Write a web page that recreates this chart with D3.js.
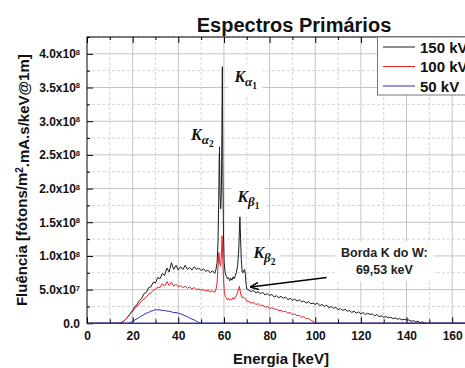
<!DOCTYPE html>
<html>
<head>
<meta charset="utf-8">
<script src="https://cdn.jsdelivr.net/npm/d3@7"></script>
<style>
  body { margin: 0; background: #fff; }
  svg { display: block; font-family: "Liberation Sans", Arial, sans-serif; }
</style>
</head>
<body>
<div id="chart"></div>
<script>
// values in units of 1e7 fótons/m².mA.s/keV@1m
const UNIT = 1e7;

const energy150 = [0, 14, 15, 16, 17, 18, 19, 20, 21, 22, 23, 24, 25, 26, 27, 28, 29, 30, 31, 32, 33, 34, 35, 36, 37, 38, 39, 40,
  41, 42, 43, 44, 45, 46, 47, 48, 49, 50, 51, 52, 53, 54, 55, 56, 56.5, 57, 57.4, 57.7, 58.0, 58.3, 58.6, 58.9, 59.1, 59.3, 59.5,
  59.8, 60.1, 60.5, 61, 61.5, 62, 62.5, 63, 63.5, 64, 64.5, 65, 65.5, 66, 66.5, 66.8, 67.0, 67.3, 67.6, 68.0, 68.4, 68.8, 69.1,
  69.4, 69.7, 70, 71, 72, 73, 74, 75, 76, 77, 78, 79, 80, 81, 82, 83, 84, 85, 86, 87, 88, 89, 90, 91, 92, 93, 94, 95, 96, 97,
  98, 99, 100, 101, 102, 103, 104, 105, 106, 107, 108, 109, 110, 111, 112, 113, 114, 115, 116, 117, 118, 119, 120, 121, 122,
  123, 124, 125, 126, 127, 128, 129, 130, 131, 132, 133, 134, 135, 136, 137, 138, 139, 140, 141, 142, 143, 144, 145, 146, 147,
  148, 149, 170];
const flux150 = [0, 0, 0.1, 0.3, 0.6, 1.0, 1.5, 1.9, 2.5, 2.8, 3.4, 3.7, 4.4, 4.6, 5.3, 5.4, 6.1, 6.0, 6.8, 6.6, 7.4, 7.1, 8.2, 7.6, 9.0, 8.0, 8.6, 7.9,
  8.4, 8.0, 8.6, 8.0, 8.3, 7.9, 8.4, 8.0, 8.2, 7.8, 8.1, 7.7, 7.9, 7.5, 7.8, 7.4, 8.0, 9.0, 12, 18, 26.2, 19, 17, 20, 28, 38.1, 24,
  13, 9.0, 7.6, 7.0, 6.6, 6.8, 6.3, 6.7, 6.4, 6.9, 6.6, 7.1, 7.6, 8.6, 11, 14, 15.8, 12.5, 9.5, 7.6, 7.5, 7.9, 8.0,
  7.2, 5.8, 5.1, 4.9, 4.7, 4.9, 4.5, 4.7, 4.4, 4.6, 4.2, 4.4, 4.1, 4.3, 3.9, 4.1, 3.8, 4.0, 3.7, 3.9, 3.5, 3.7, 3.4, 3.6, 3.3, 3.5, 3.2, 3.3, 3.0, 3.2,
  2.9, 3.0, 2.8, 3.0, 2.6, 2.8, 2.5, 2.7, 2.3, 2.5, 2.2, 2.4, 2.0, 2.2, 1.9, 2.1, 1.8, 1.9, 1.6, 1.8, 1.5, 1.7, 1.4, 1.6, 1.3,
  1.5, 1.3, 1.4, 1.1, 1.3, 1.0, 1.1, 0.9, 1.0, 0.8, 0.9, 0.7, 0.8, 0.6, 0.7, 0.5, 0.6, 0.5, 0.5, 0.3, 0.4, 0.2, 0.3, 0.1, 0.2,
  0.05, 0, 0];

const energy100 = [0, 14, 15, 16, 17, 18, 19, 20, 21, 22, 23, 24, 25, 26, 27, 28, 29, 30, 31, 32, 33, 34, 35, 36, 37, 38, 39, 40,
  41, 42, 43, 44, 45, 46, 47, 48, 49, 50, 51, 52, 53, 54, 55, 56, 56.5, 57, 57.4, 57.8, 58.1, 58.5, 58.9, 59.2, 59.5, 59.8,
  60.2, 60.6, 61, 61.5, 62, 62.5, 63, 63.5, 64, 64.5, 65, 65.5, 66, 66.5, 66.8, 67.1, 67.5, 68, 68.5, 69, 69.5, 70, 71, 72, 73,
  74, 75, 76, 77, 78, 79, 80, 81, 82, 83, 84, 85, 86, 87, 88, 89, 90, 91, 92, 93, 94, 95, 96, 97, 98, 99, 100, 170];
const flux100 = [0, 0, 0.1, 0.3, 0.6, 1.0, 1.4, 1.8, 2.2, 2.6, 2.9, 3.3, 3.6, 3.9, 4.3, 4.5, 4.9, 5.0, 5.4, 5.3, 5.9, 5.5, 6.2, 5.6, 6.1, 5.5, 5.8, 5.4,
  5.6, 5.3, 5.5, 5.2, 5.4, 5.1, 5.3, 5.0, 5.1, 4.9, 5.0, 4.8, 4.9, 4.7, 4.8, 4.6, 5.0, 6.0, 8.5, 10.5, 9.0, 8.5, 10, 13.0, 9.5, 6.5,
  4.6, 4.0, 3.8, 3.5, 3.7, 3.4, 3.6, 3.5, 3.8, 3.6, 3.9, 4.1, 4.6, 5.2, 5.5, 4.8, 4.2, 3.8, 3.9, 3.8, 3.6, 3.3, 3.2, 3.0, 3.1,
  2.8, 2.9, 2.6, 2.7, 2.4, 2.5, 2.2, 2.3, 2.1, 2.1, 1.9, 1.9, 1.7, 1.8, 1.5, 1.6, 1.3, 1.4, 1.1, 1.2, 0.9, 1.0, 0.7, 0.7, 0.5, 0.3, 0, 0];

const energy50 = [0, 18, 19, 20, 21, 22, 23, 24, 25, 26, 27, 28, 29, 30, 31, 32, 33, 34, 35, 36, 37, 38, 39, 40, 41, 42, 43, 44,
  45, 46, 47, 48, 49, 50, 170];
const flux50 = [0, 0, 0.1, 0.3, 0.5, 0.7, 0.9, 1.1, 1.3, 1.5, 1.6, 1.8, 1.9, 2.0, 2.0, 2.0, 1.9, 1.9, 1.8, 1.8, 1.7, 1.6, 1.6, 1.5, 1.4, 1.3, 1.1, 1.0,
  0.8, 0.6, 0.5, 0.3, 0.1, 0, 0];

const seriesNames = ["150 kV", "100 kV", "50 kV"];
const seriesColors = ["#1c1c1c", "#e3242b", "#2b2bc8"];

const xMajorTicks = [0, 20, 40, 60, 80, 100, 120, 140, 160];
const xMinorTicks = [10, 30, 50, 70, 90, 110, 130, 150, 170];
const yMajorTicks = [0, 5e7, 1e8, 1.5e8, 2e8, 2.5e8, 3e8, 3.5e8, 4e8];
const yMinorTicks = [2.5e7, 7.5e7, 1.25e8, 1.75e8, 2.25e8, 2.75e8, 3.25e8, 3.75e8, 4.25e8];
const yTickMantissa = ["0.0", "5.0x10", "1.0x10", "1.5x10", "2.0x10", "2.5x10", "3.0x10", "3.5x10", "4.0x10"];
const yTickExponent = ["", "7", "8", "8", "8", "8", "8", "8", "8"];

// peak labels: [greek, index, energy keV, flux]
const peakLabels = [
  ["α", "1", 64.6, 3.58e8],
  ["α", "2", 45.6, 2.72e8],
  ["β", "1", 65.9, 1.80e8],
  ["β", "2", 72.9, 0.97e8]
];
const edgeText = ["Borda K do W:", "69,53 keV"];
const edgeTextPos = [130.3, 0.99e8, 0.73e8];
const edgeArrow = [[105, 6.8e7], [71.7, 5.4e7]];

const width = 465, height = 368;
const plotLeft = 87, plotTop = 37, plotBottom = 323.3, plotRight = 475;

const x = d3.scaleLinear().domain([0, 170]).range([plotLeft, plotRight]);
const y = d3.scaleLinear().domain([0, 4.25e8]).range([plotBottom, plotTop]);

const svg = d3.select("#chart").append("svg")
  .attr("width", width)
  .attr("height", height);

// grid
const grid = svg.append("g");
grid.selectAll(".gxm").data(xMinorTicks).join("line")
  .attr("x1", d => x(d)).attr("x2", d => x(d))
  .attr("y1", plotTop).attr("y2", plotBottom)
  .attr("stroke", "#d4d4d4").attr("stroke-dasharray", "3,2");
grid.selectAll(".gym").data(yMinorTicks).join("line")
  .attr("x1", plotLeft).attr("x2", plotRight)
  .attr("y1", d => y(d)).attr("y2", d => y(d))
  .attr("stroke", "#d4d4d4").attr("stroke-dasharray", "3,2");
grid.selectAll(".gx").data(xMajorTicks.slice(1)).join("line")
  .attr("x1", d => x(d)).attr("x2", d => x(d))
  .attr("y1", plotTop).attr("y2", plotBottom)
  .attr("stroke", "#c4c4c4");
grid.selectAll(".gy").data(yMajorTicks.slice(1)).join("line")
  .attr("x1", plotLeft).attr("x2", plotRight)
  .attr("y1", d => y(d)).attr("y2", d => y(d))
  .attr("stroke", "#c4c4c4");

// spectra
const line = d3.line().x(d => x(d[0])).y(d => y(d[1] * UNIT));
const spectra = [
  d3.zip(energy150, flux150),
  d3.zip(energy100, flux100),
  d3.zip(energy50, flux50)
];
svg.append("g").selectAll("path").data(spectra).join("path")
  .attr("d", line)
  .attr("fill", "none")
  .attr("stroke", (d, i) => seriesColors[i])
  .attr("stroke-width", 1);

// axes (ticks inward)
function styleAxis(g) {
  g.select(".domain").remove();
  g.selectAll("line").attr("stroke", "#000");
}
svg.append("g").attr("transform", `translate(${plotLeft},0)`)
  .call(d3.axisLeft(y).tickValues(yMajorTicks).tickSize(-6).tickFormat(""))
  .call(styleAxis);
svg.append("g").attr("transform", `translate(${plotLeft},0)`)
  .call(d3.axisLeft(y).tickValues(yMinorTicks).tickSize(-3).tickFormat(""))
  .call(styleAxis);
svg.append("g").attr("transform", `translate(0,${plotTop})`)
  .call(d3.axisTop(x).tickValues(xMajorTicks).tickSize(-6).tickFormat(""))
  .call(styleAxis);
svg.append("g").attr("transform", `translate(0,${plotTop})`)
  .call(d3.axisTop(x).tickValues(xMinorTicks).tickSize(-3).tickFormat(""))
  .call(styleAxis);
svg.append("g").attr("transform", `translate(0,${plotBottom})`)
  .call(d3.axisBottom(x).tickValues(xMinorTicks).tickSize(-4).tickFormat(""))
  .call(styleAxis);
const xAxis = svg.append("g").attr("transform", `translate(0,${plotBottom})`)
  .call(d3.axisBottom(x).tickValues(xMajorTicks).tickSize(-6).tickPadding(8))
  .call(styleAxis);
xAxis.selectAll("text")
  .attr("fill", "#111")
  .style("font-size", "12px")
  .style("font-weight", "bold")
  .style("font-family", "'Liberation Sans', Arial, sans-serif");

// y tick labels with superscript
const yLabels = svg.append("g").selectAll("text").data(yMajorTicks).join("text")
  .attr("x", 80)
  .attr("y", d => y(d))
  .attr("dy", "0.36em")
  .attr("text-anchor", "end")
  .attr("fill", "#111")
  .style("font-size", "12px")
  .style("font-weight", "bold");
yLabels.append("tspan").text((d, i) => yTickMantissa[i]);
yLabels.append("tspan")
  .attr("dy", "-0.45em")
  .style("font-size", "7.5px")
  .text((d, i) => yTickExponent[i]);

// frame
svg.append("rect")
  .attr("x", plotLeft).attr("y", plotTop)
  .attr("width", plotRight - plotLeft).attr("height", plotBottom - plotTop)
  .attr("fill", "none").attr("stroke", "#000").attr("stroke-width", 1);
svg.append("line")
  .attr("x1", plotLeft).attr("x2", plotRight)
  .attr("y1", plotBottom).attr("y2", plotBottom)
  .attr("stroke", seriesColors[2]).attr("stroke-width", 1.2);

// title
svg.append("text")
  .attr("x", 294).attr("y", 32)
  .attr("text-anchor", "middle")
  .style("font-size", "20px").style("font-weight", "bold")
  .attr("fill", "#111")
  .text("Espectros Primários");

// axis titles
svg.append("text")
  .attr("x", (plotLeft + plotRight) / 2).attr("y", 364)
  .attr("text-anchor", "middle")
  .style("font-size", "15px").style("font-weight", "bold")
  .attr("fill", "#111")
  .text("Energia [keV]");

const yTitle = svg.append("text")
  .attr("transform", `translate(27,${(plotTop + plotBottom) / 2}) rotate(-90)`)
  .attr("text-anchor", "middle")
  .style("font-size", "15px").style("font-weight", "bold")
  .attr("fill", "#111");
yTitle.append("tspan").text("Fluência [fótons/m");
yTitle.append("tspan").attr("dy", "-0.45em").style("font-size", "10px").text("2");
yTitle.append("tspan").attr("dy", "0.45em").text(".mA.s/keV@1m]");

// legend (cut at the right edge, as in the source figure)
const legend = svg.append("g");
legend.append("rect")
  .attr("x", 377.5).attr("y", plotTop)
  .attr("width", 110).attr("height", 58)
  .attr("fill", "#fff").attr("stroke", "#777");
const legendItems = legend.selectAll("g.item").data(seriesNames).join("g")
  .attr("transform", (d, i) => `translate(383,${47 + i * 19.5})`);
legendItems.append("line")
  .attr("x1", 0).attr("x2", 32)
  .attr("stroke", (d, i) => seriesColors[i]).attr("stroke-width", 1);
legendItems.append("text")
  .attr("x", 37).attr("y", 5.5)
  .style("font-size", "15px").style("font-weight", "bold")
  .attr("fill", "#111")
  .text(d => d);

// peak labels with white boxes
peakLabels.forEach(p => {
  const g = svg.append("g");
  const t = g.append("text")
    .attr("x", x(p[2])).attr("y", y(p[3]))
    .style("font-family", "'Liberation Serif', 'Times New Roman', serif")
    .style("font-style", "italic").style("font-weight", "bold")
    .attr("fill", "#111");
  t.append("tspan").style("font-size", "16px").text("K");
  t.append("tspan").attr("dy", 4).style("font-size", "13px").text(p[0]);
  t.append("tspan").attr("dy", 3).style("font-size", "9.5px").style("font-style", "normal").text(p[1]);
  const b = t.node().getBBox();
  g.insert("rect", "text")
    .attr("x", b.x - 5).attr("y", b.y - 4)
    .attr("width", b.width + 10).attr("height", b.height + 8)
    .attr("fill", "#fff");
});

// K-edge annotation
const edge = svg.append("g");
edge.selectAll("text").data(edgeText).join("text")
  .attr("x", x(edgeTextPos[0]))
  .attr("y", (d, i) => y(edgeTextPos[i + 1]))
  .attr("text-anchor", "middle")
  .style("font-size", "12.5px").style("font-weight", "bold")
  .attr("fill", "#222")
  .text(d => d);
const eb = edge.node().getBBox();
edge.insert("rect", "text")
  .attr("x", eb.x - 6).attr("y", eb.y - 4)
  .attr("width", eb.width + 12).attr("height", eb.height + 8)
  .attr("fill", "#fff");

svg.append("defs").append("marker")
  .attr("id", "arrowhead")
  .attr("viewBox", "0 -5 10 10")
  .attr("refX", 9).attr("refY", 0)
  .attr("markerWidth", 9).attr("markerHeight", 9)
  .attr("markerUnits", "userSpaceOnUse")
  .attr("orient", "auto")
  .append("path")
  .attr("d", "M0,-4L10,0L0,4")
  .attr("fill", "none").attr("stroke", "#000").attr("stroke-width", 1.6);

svg.append("line")
  .attr("x1", x(edgeArrow[0][0])).attr("y1", y(edgeArrow[0][1]))
  .attr("x2", x(edgeArrow[1][0])).attr("y2", y(edgeArrow[1][1]))
  .attr("stroke", "#000").attr("stroke-width", 1.6)
  .attr("marker-end", "url(#arrowhead)");
</script>
</body>
</html>
